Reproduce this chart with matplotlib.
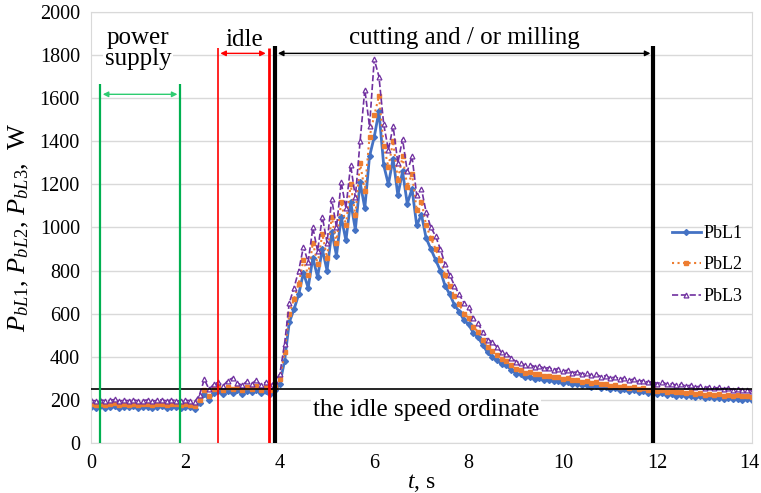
import numpy as np
import matplotlib
matplotlib.use("Agg")
import matplotlib.pyplot as plt
from matplotlib.transforms import ScaledTranslation

plt.rcParams["font.family"] = ["Liberation Serif", "DejaVu Serif"]
plt.rcParams["mathtext.fontset"] = "custom"
plt.rcParams["mathtext.rm"] = "Liberation Serif"
plt.rcParams["mathtext.it"] = "Liberation Serif:italic"

# time axis, s (sampled every 0.1 s)
t = np.round(np.arange(141) * 0.1, 1)

# phase power, W
pbl1 = [168, 163, 170, 164, 167, 171, 162, 168, 165, 170, 164, 166, 169, 163, 167, 170, 164, 169, 166, 163,
        168, 165, 160, 185, 228, 200, 232, 240, 226, 242, 234, 244, 228, 240, 236, 246, 230, 240, 226, 244,
        275, 380, 560, 620, 690, 790, 720, 860, 770, 900, 800, 980, 870, 1050, 940, 1120, 990, 1210, 1090, 1330,
        1420, 1540, 1290, 1200, 1320, 1150, 1260, 1110, 1180, 1010, 1060, 950, 900, 850, 800, 730, 690, 640, 610, 570,
        550, 510, 490, 455, 420, 400, 385, 365, 360, 340, 322, 318, 306, 308, 298, 300, 292, 294, 286, 290,
        280, 283, 274, 276, 268, 271, 262, 266, 257, 260, 250, 255, 248, 250, 241, 246, 236, 240, 231, 234,
        226, 232, 224, 226, 220, 223, 216, 220, 212, 216, 210, 213, 207, 211, 205, 208, 203, 206, 201, 204, 200]
pbl2 = [181, 177, 183, 178, 180, 184, 176, 181, 178, 183, 177, 179, 182, 176, 180, 183, 177, 182, 179, 176,
        181, 178, 174, 200, 248, 218, 250, 258, 244, 260, 250, 262, 246, 258, 252, 264, 248, 258, 244, 262,
        295, 420, 600, 670, 740, 850, 780, 930, 830, 970, 860, 1050, 930, 1120, 1010, 1200, 1060, 1300, 1170, 1420,
        1520, 1610, 1380, 1280, 1400, 1220, 1330, 1190, 1250, 1080, 1120, 1010, 950, 900, 850, 780, 730, 680, 645, 600,
        580, 540, 515, 480, 445, 425, 408, 388, 380, 362, 342, 337, 326, 328, 318, 320, 311, 313, 305, 308,
        298, 301, 291, 294, 285, 288, 279, 283, 273, 276, 266, 270, 262, 265, 256, 261, 251, 255, 246, 249,
        241, 247, 239, 241, 235, 238, 231, 235, 227, 231, 225, 228, 222, 226, 220, 223, 218, 221, 216, 219, 215]
pbl3 = [199, 195, 201, 196, 198, 202, 194, 199, 196, 201, 195, 197, 200, 194, 198, 201, 195, 200, 197, 194,
        199, 196, 192, 225, 295, 250, 272, 282, 266, 290, 302, 278, 268, 286, 274, 292, 268, 282, 266, 288,
        320, 460, 650, 720, 800, 910, 840, 1000, 890, 1050, 930, 1130, 1000, 1210, 1090, 1290, 1140, 1400, 1640, 1470,
        1780, 1700, 1480, 1360, 1470, 1300, 1410, 1260, 1330, 1150, 1180, 1070, 1000, 960, 900, 830, 780, 730, 690, 650,
        630, 580, 555, 515, 480, 470, 445, 420, 415, 395, 378, 372, 360, 364, 354, 357, 346, 350, 341, 345,
        334, 338, 326, 331, 320, 324, 314, 319, 308, 312, 301, 306, 298, 301, 291, 297, 286, 290, 281, 285,
        276, 284, 272, 275, 268, 272, 264, 268, 259, 264, 257, 261, 254, 258, 251, 255, 248, 252, 245, 248, 242]

series_names = ["PbL1", "PbL2", "PbL3"]
idle_ordinate = 250

fig = plt.figure(figsize=(7.61, 4.93), dpi=100)
ax = fig.add_axes([0.1196, 0.1014, 0.8684, 0.8743])

ax.plot(t, pbl1, color="#4472C4", lw=2, ls="-", marker="D", ms=3, label=series_names[0])
ax.plot(t, pbl2, color="#ED7D31", lw=1.5, ls=":", marker="s", ms=3, label=series_names[1])
ax.plot(t, pbl3, color="#7030A0", lw=1.2, ls="--", marker="^", ms=3.5, mfc="white", mew=0.9, label=series_names[2])

ax.set_xlim(0, 14)
ax.set_ylim(0, 2000)
ax.set_xticks(range(0, 15, 2))
ax.set_yticks(range(0, 2001, 200))
ax.grid(axis="y", color="#d9d9d9", lw=1)
ax.set_axisbelow(True)
for s in ax.spines.values():
    s.set_color("#d9d9d9")
ax.tick_params(length=0, labelsize=14.5, pad=8)
# nudge the last x label so it stays inside the figure
last = ax.get_xticklabels()[-1]
last.set_transform(last.get_transform() + ScaledTranslation(-3 / 100, 0, fig.dpi_scale_trans))

ax.set_xlabel("$t$, s", fontsize=17, labelpad=-1)
ax.set_ylabel("$P_{bL1}$, $P_{bL2}$, $P_{bL3}$,  W", fontsize=19, labelpad=6)

# phase markers
ax.vlines([0.19, 1.89], 0, 1665, color="#00B050", lw=1.6, zorder=5)
ax.annotate("", xy=(0.19, 1618), xytext=(1.89, 1618),
            arrowprops=dict(arrowstyle="<|-|>", color="#2ECC71", lw=1, mutation_scale=8), zorder=5)
ax.vlines(2.68, 0, 1832, color="red", lw=1.2, zorder=5)
ax.vlines(3.76, 0, 1832, color="red", lw=2, zorder=5)
ax.annotate("", xy=(2.68, 1808), xytext=(3.76, 1808),
            arrowprops=dict(arrowstyle="<|-|>", color="red", lw=1, mutation_scale=8), zorder=5)
ax.vlines([3.9, 11.91], 0, 1840, color="black", lw=3, zorder=5)
ax.annotate("", xy=(3.9, 1808), xytext=(11.91, 1808),
            arrowprops=dict(arrowstyle="<|-|>", color="black", lw=1, mutation_scale=8), zorder=5)
ax.axhline(idle_ordinate, color="black", lw=1.2, zorder=4)

box = dict(facecolor="white", edgecolor="none", pad=1)
ax.text(1.0, 1832, "power\nsupply", ha="center", va="center", fontsize=18, linespacing=0.95, bbox=box, zorder=6)
ax.text(3.24, 1872, "idle", ha="center", va="center", fontsize=18, zorder=6)
ax.text(7.92, 1880, "cutting and / or milling", ha="center", va="center", fontsize=18, zorder=6)
ax.text(7.1, 152, "the idle speed ordinate", ha="center", va="center", fontsize=18, bbox=box, zorder=6)

ax.legend(loc="upper left", bbox_to_anchor=(0.86, 0.535), frameon=False, fontsize=13,
          handlelength=1.6, labelspacing=0.8, handletextpad=0.15, borderpad=0.2)

fig.savefig("out.png", dpi=100)
